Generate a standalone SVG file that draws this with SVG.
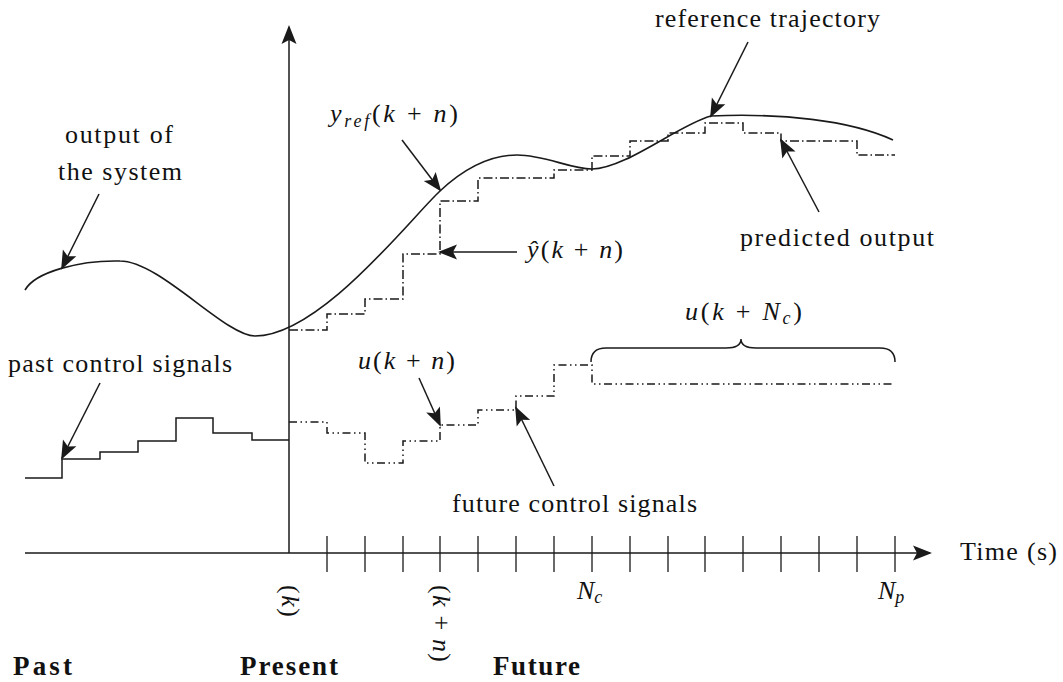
<svg xmlns="http://www.w3.org/2000/svg" width="1063" height="682" viewBox="0 0 1063 682">
<defs>
<style>
.ln{fill:none;stroke:#1a1a1a;stroke-width:1.5}
.tk{fill:none;stroke:#1a1a1a;stroke-width:1.3}
.crv{fill:none;stroke:#1a1a1a;stroke-width:1.6}
.dd{fill:none;stroke:#1a1a1a;stroke-width:1.5;stroke-dasharray:9 3 1.5 3}
.ddd{fill:none;stroke:#1a1a1a;stroke-width:1.5;stroke-dasharray:8 3.5 1.5 3.5 1.5 3.5}
.t{font-family:"Liberation Serif","Times New Roman",serif;font-size:26px;fill:#111}
.b{font-family:"Liberation Serif","Times New Roman",serif;font-size:27px;font-weight:bold;fill:#111}
.i{font-style:italic}
.sub{font-size:18px}
</style>
<marker id="ah" viewBox="-18 -8 21 16" refX="0" refY="0" markerWidth="21" markerHeight="16" orient="auto" markerUnits="userSpaceOnUse">
<path d="M2,0 L-17,-7.5 L-13,0 L-17,7.5 Z" fill="#1a1a1a"/>
</marker>
</defs>
<rect width="1063" height="682" fill="#fff"/>

<g id="axes">
<line class="ln" x1="25" y1="553" x2="930" y2="553" marker-end="url(#ah)"/>
<line class="ln" x1="289" y1="553" x2="289" y2="27" marker-end="url(#ah)"/>
<path class="tk" d="M327,536V572M365,536V572M403,536V572M440,536V572M478,536V572M516,536V572M554,536V572M592,536V572M630,536V572M668,536V572M705,536V572M743,536V572M781,536V572M819,536V572M857,536V572M895,536V572"/>
</g>

<g id="signals">
<path id="output-curve" class="crv" d="M25,290 C35,272 80,260 120,261 C160,261 225,336 255,336 C320,336 410,219 440,191 C470,163 495,155 517,155 C545,155 570,169 592,169 C625,169 680,124 711,116 C780,113 850,120 893,140"/>
<path id="predicted" class="dd" d="M289,330 H327 V314 H365 V299 H403 V254 H440 V201 H478 V178 H554 V170 H592 V156 H630 V141 H668 V133 H705 V123 H743 V133 H781 V141 H857 V155 H895"/>
<path id="past-u" class="ln" d="M25,478 H62 V459 H100 V452 H138 V441 H176 V418 H213 V433 H252 V440 H289"/>
<path id="future-u" class="ddd" d="M289,422 H327 V433 H365 V463 H403 V441 H440 V425 H478 V410 H516 V396 H554 V365 H592 V384 H895"/>
<path id="brace" class="ln" d="M591,362 Q591,348 606,348 L726,348 Q741,348 741,339 Q741,348 756,348 L880,348 Q895,348 895,362"/>
</g>

<g id="connectors">
<line class="ln" x1="99" y1="194" x2="62" y2="268" marker-end="url(#ah)"/>
<line class="ln" x1="100" y1="383" x2="62" y2="458" marker-end="url(#ah)"/>
<line class="ln" x1="402" y1="140" x2="440" y2="190" marker-end="url(#ah)"/>
<line class="ln" x1="517" y1="252" x2="440" y2="252" marker-end="url(#ah)"/>
<line class="ln" x1="748" y1="42" x2="711" y2="116" marker-end="url(#ah)"/>
<line class="ln" x1="819" y1="212" x2="781" y2="140" marker-end="url(#ah)"/>
<line class="ln" x1="419" y1="378" x2="440" y2="425" marker-end="url(#ah)"/>
<line class="ln" x1="554" y1="486" x2="516" y2="408" marker-end="url(#ah)"/>
</g>

<g id="label-output">
<text class="t" x="65" y="143" textLength="108">output of</text>
<text class="t" x="58" y="180" textLength="124">the system</text>
</g>
<g id="label-past-control">
<text class="t" x="8" y="372" textLength="224">past control signals</text>
</g>
<g id="label-yref">
<text class="t" x="330" y="122" textLength="128"><tspan class="i">y</tspan><tspan class="i sub" dy="5">ref</tspan><tspan dy="-5">(</tspan><tspan class="i">k</tspan> + <tspan class="i">n</tspan>)</text>
</g>
<g id="label-yhat">
<text class="t" x="527" y="258" textLength="96"><tspan class="i">ŷ</tspan>(<tspan class="i">k</tspan> + <tspan class="i">n</tspan>)</text>
</g>
<g id="label-reference">
<text class="t" x="655" y="27" textLength="225">reference trajectory</text>
</g>
<g id="label-predicted">
<text class="t" x="740" y="246" textLength="194">predicted output</text>
</g>
<g id="label-ukn">
<text class="t" x="358" y="369" textLength="97"><tspan class="i">u</tspan>(<tspan class="i">k</tspan> + <tspan class="i">n</tspan>)</text>
</g>
<g id="label-ukNc">
<text class="t" x="685" y="320" textLength="117"><tspan class="i">u</tspan>(<tspan class="i">k</tspan> + <tspan class="i">N</tspan><tspan class="i sub" dy="4">c</tspan><tspan dy="-4">)</tspan></text>
</g>
<g id="label-future-control">
<text class="t" x="452" y="512" textLength="245">future control signals</text>
</g>
<g id="axis-labels">
<text class="t" transform="translate(282,585) rotate(90)" textLength="32">(<tspan class="i">k</tspan>)</text>
<text class="t" transform="translate(433,585) rotate(90)" textLength="77">(<tspan class="i">k</tspan> + <tspan class="i">n</tspan>)</text>
<text class="t i" x="577" y="599">N<tspan class="sub" dy="4">c</tspan></text>
<text class="t i" x="878" y="599">N<tspan class="sub" dy="4">p</tspan></text>
<text class="t" x="960" y="560" textLength="97">Time (s)</text>
</g>
<g id="regions">
<text class="b" x="13" y="675" textLength="59">Past</text>
<text class="b" x="240" y="675" textLength="98">Present</text>
<text class="b" x="493" y="675" textLength="87">Future</text>
</g>
</svg>
